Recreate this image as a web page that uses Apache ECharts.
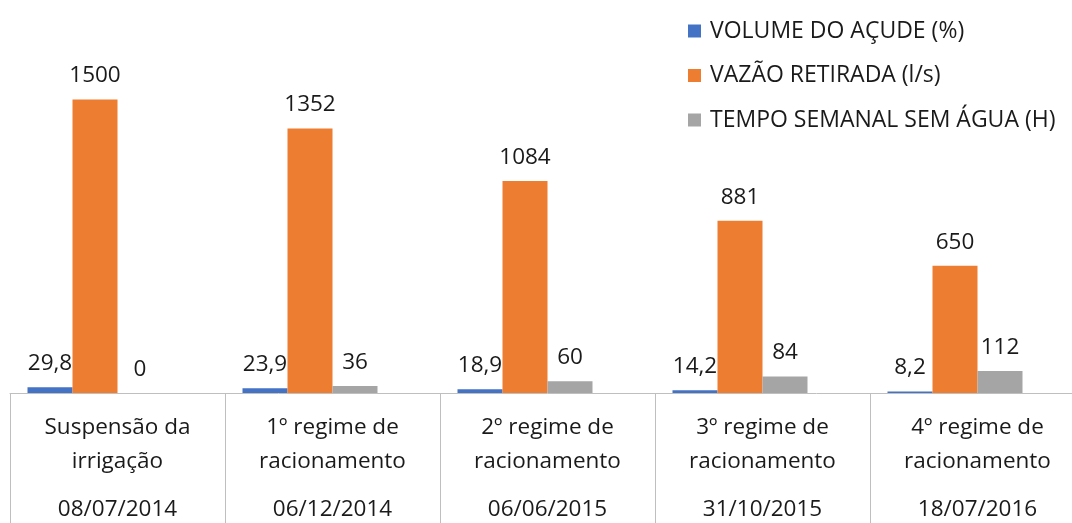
<!DOCTYPE html>
<html>
<head>
<meta charset="utf-8">
<script src="https://cdn.jsdelivr.net/npm/echarts@6/dist/echarts.min.js"></script>
<style>
html,body{margin:0;padding:0;background:#fff;overflow:hidden;}
#chart{width:1085px;height:523px;}
</style>
</head>
<body>
<div id="chart"></div>
<script>
// dados
var categories = ['Suspensão da\nirrigação', '1º regime de\nracionamento', '2º regime de\nracionamento', '3º regime de\nracionamento', '4º regime de\nracionamento'];
var dates = ['08/07/2014', '06/12/2014', '06/06/2015', '31/10/2015', '18/07/2016'];
var seriesNames = ['VOLUME DO AÇUDE (%)', 'VAZÃO RETIRADA (l/s)', 'TEMPO SEMANAL SEM ÁGUA (H)'];
var volume = [29.8, 23.9, 18.9, 14.2, 8.2];
var vazao = [1500, 1352, 1084, 881, 650];
var tempo = [0, 36, 60, 84, 112];
var empty = ['-', '-', '-', '-', '-'];

// o gráfico original é cortado à direita: a área do gráfico passa da janela
var chart = echarts.init(document.getElementById('chart'));
var font = 'Open Sans';
var fs = 22.5;

var labelStyle = {
	show: true,
	position: 'top',
	distance: 12,
	fontFamily: font,
	fontSize: fs,
	color: '#1a1a1a',
	formatter: function(p){ return String(p.value).replace('.', ','); }
};

function barSeries(name, data, color){
	return {
		name: name,
		type: 'bar',
		data: data,
		barWidth: 45,
		barGap: '0%',
		itemStyle: {color: color},
		label: labelStyle,
		silent: true
	};
}

var option = {
	animation: false,
	backgroundColor: '#fff',
	legend: {
		orient: 'vertical',
		left: 688,
		top: 19,
		padding: 0,
		itemWidth: 13,
		itemHeight: 13,
		itemGap: 20.5,
		icon: 'rect',
		data: seriesNames,
		textStyle: {fontFamily: font, fontSize: 23, color: '#1a1a1a', lineHeight: 24, padding: [0, 0, 0, 4]}
	},
	grid: {left: 10, right: 0, top: 80, height: 313},
	xAxis: {
		type: 'category',
		data: categories,
		axisLine: {lineStyle: {color: '#bfbfbf', width: 1}},
		axisTick: {show: true, length: 130, lineStyle: {color: '#bfbfbf'}},
		axisLabel: {
			margin: 18,
			interval: 0,
			formatter: function(v, i){
				var parts = v.split('\n');
				return '{a|' + parts[0] + '}\n{a|' + parts[1] + '}\n{d|' + dates[i] + '}';
			},
			rich: {
				a: {fontFamily: font, fontSize: fs, color: '#1a1a1a', lineHeight: 34},
				d: {fontFamily: font, fontSize: fs, color: '#1a1a1a', lineHeight: 62}
			}
		}
	},
	yAxis: {type: 'value', show: false, min: 0, max: 1600, splitLine: {show: false}},
	series: [
		barSeries(seriesNames[0], volume, '#4472c4'),
		barSeries(seriesNames[1], vazao, '#ed7d31'),
		barSeries(seriesNames[2], tempo, '#a5a5a5'),
		{name: 'vazio', type: 'bar', data: empty, barWidth: 45, barGap: '0%', silent: true}
	]
};

chart.setOption(option);
</script>
</body>
</html>
